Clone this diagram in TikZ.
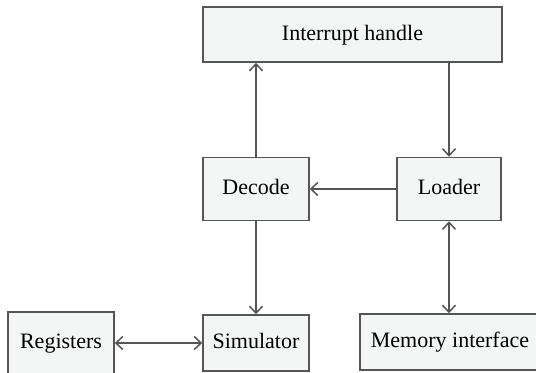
\documentclass[tikz,border=0pt]{standalone}
\usepackage{fontspec}
\setmainfont{Liberation Serif}
\usetikzlibrary{arrows.meta}
\definecolor{boxfill}{HTML}{F4F5F5}
\definecolor{linegray}{HTML}{555555}
\begin{document}
\begin{tikzpicture}[x=0.5pt,y=-0.5pt,
        >={Straight Barb[length=3.5pt,width=6.5pt]},
        block/.style={draw=linegray,fill=boxfill,line width=0.75pt,
            inner sep=0pt,text height=1.6ex,text depth=.4ex,
            font=\fontsize{11}{13}\selectfont},
        link/.style={draw=linegray,line width=0.75pt,->}]
        \useasboundingbox (0,0) rectangle (536,372);
        \clip (0,0) rectangle (536,372);
        % boxes
        \node[block,minimum width=149.5pt,minimum height=27.5pt] (irq) at (352.5,34.5) {Interrupt handle};
        \node[block,minimum width=53pt,minimum height=31.5pt] (decode) at (256,189) {Decode};
        \node[block,minimum width=52pt,minimum height=31.5pt] (loader) at (449,189) {Loader};
        \node[block,minimum width=53pt,minimum height=31pt] (regs) at (61,343) {Registers};
        \node[block,minimum width=53pt,minimum height=28pt] (sim) at (256,343) {Simulator};
        \node[block,minimum width=90pt,minimum height=28pt] (mem) at (450,342) {Memory interface};
        % connectors
        \draw[link] (decode.north) -- (decode.north |- irq.south);
        \draw[link] (loader.north |- irq.south) -- (loader.north);
        \draw[link] (loader) -- (decode);
        \draw[link] (decode) -- (sim);
        \draw[link,<->] (loader.south) -- (loader.south |- mem.north);
        \draw[link,<->] (regs) -- (sim);
\end{tikzpicture}
\end{document}
